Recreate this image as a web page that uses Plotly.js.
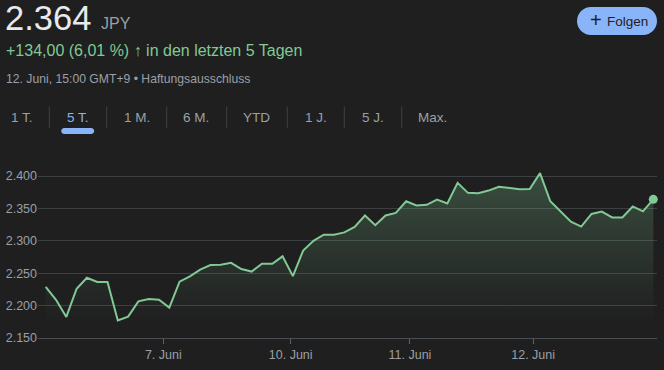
<!DOCTYPE html>
<html>
<head>
<meta charset="utf-8">
<script src="https://cdn.plot.ly/plotly-3.0.1.min.js"></script>
<style>
  html, body { margin: 0; padding: 0; background: #1f1f1f; }
  #chart { width: 664px; height: 370px; }
</style>
</head>
<body>
<div id="chart"></div>
<script>
// ---- data ----
const prices = [2229,2209,2182.5,2226,2243,2236.5,2236.5,2177,2183,2206.5,
  2210,2209,2197,2237,2245,2255.5,2262.5,2263,2266,2256.5,
  2252.5,2264.5,2264.5,2276,2245.5,2285,2300,2309.5,2309.5,2313,
  2321.5,2339,2324,2339,2343,2361,2354.5,2355.5,2363.5,2357.5,
  2389.5,2374,2373.5,2377.5,2383.5,2381.5,2379.5,2380,2404.5,2361,
  2344.5,2329.5,2322,2341.5,2345,2336,2336,2353,2345.5,2364];
const steps = prices.map((_, i) => i);
const dayTickPos = [11.42, 23.79, 35.37, 47.33];
const dayTickLabels = ['7. Juni', '10. Juni', '11. Juni', '12. Juni'];
const yTicks = [2150, 2200, 2250, 2300, 2350, 2400];
const tabLabels = ['1 T.', '5 T.', '1 M.', '6 M.', 'YTD', '1 J.', '5 J.', 'Max.'];
const activeTab = '5 T.';

// ---- header texts ----
const priceText = '2.364';
const currencyText = 'JPY';
const changeText = '+134,00 (6,01 %) <b>\u2191</b> in den letzten 5 Tagen';
const dateText = '12. Juni, 15:00 GMT+9 \u2022 Haftungsausschluss';

// ---- layout helpers (pixel -> paper) ----
const L = 38, R = 657, T = 160, B = 338;
const W = 664, H = 370;
const ax = px => (px - L) / (R - L);
const ay = py => (B - py) / (B - T);

function roundRectPath(x0, y0, x1, y1, r) {
  const k = 0.5523 * r;
  const P = (x, y) => ax(x) + ',' + ay(y);
  return 'M' + P(x0 + r, y0) +
    ' L' + P(x1 - r, y0) +
    ' C' + P(x1 - r + k, y0) + ' ' + P(x1, y0 + r - k) + ' ' + P(x1, y0 + r) +
    ' L' + P(x1, y1 - r) +
    ' C' + P(x1, y1 - r + k) + ' ' + P(x1 - r + k, y1) + ' ' + P(x1 - r, y1) +
    ' L' + P(x0 + r, y1) +
    ' C' + P(x0 + r - k, y1) + ' ' + P(x0, y1 - r + k) + ' ' + P(x0, y1 - r) +
    ' L' + P(x0, y0 + r) +
    ' C' + P(x0, y0 + r - k) + ' ' + P(x0 + r - k, y0) + ' ' + P(x0 + r, y0) + ' Z';
}

const FONT = 'Arial, "Liberation Sans", sans-serif';
const GREEN = '#81c995';
const GRAY = '#9aa0a6';
const BLUE = '#8ab4f8';

const tabCenters = [21.7, 77.7, 136.7, 196, 256.7, 316, 372.7, 432.7];
const tabSeps = [49.3, 106.7, 166.7, 226.7, 287.3, 344.3, 401.7];

const annotations = [
  {text: priceText, x: ax(3), y: ay(17.5), font: {size: 34.5, color: '#e8eaed'}},
  {text: currencyText, x: ax(99), y: ay(23), font: {size: 16, color: GRAY}},
  {text: changeText, x: ax(4), y: ay(51), font: {size: 16, color: GREEN}},
  {text: dateText, x: ax(4), y: ay(78.5), font: {size: 12.2, color: GRAY}},
  {text: '+', x: ax(587.5), y: ay(20.5), font: {size: 20, color: '#202124'}},
  {text: 'Folgen', x: ax(605), y: ay(21), font: {size: 13.5, color: '#202124'}}
].map(a => Object.assign({xref: 'paper', yref: 'paper', xanchor: 'left', yanchor: 'middle', showarrow: false}, a));

tabLabels.forEach((t, i) => {
  annotations.push({
    text: t, xref: 'paper', yref: 'paper', x: ax(tabCenters[i]), y: ay(117),
    xanchor: 'center', yanchor: 'middle', showarrow: false,
    font: {size: 13.5, color: t === activeTab ? BLUE : GRAY}
  });
});

const shapes = [];
tabSeps.forEach(sx => {
  shapes.push({type: 'line', xref: 'paper', yref: 'paper', x0: ax(sx), x1: ax(sx),
    y0: ay(106.5), y1: ay(128), line: {color: '#3c4043', width: 1}});
});
// active tab underline
const ai = tabLabels.indexOf(activeTab);
shapes.push({type: 'path', xref: 'paper', yref: 'paper',
  path: roundRectPath(tabCenters[ai] - 16.5, 128, tabCenters[ai] + 16.5, 134, 3),
  fillcolor: BLUE, line: {width: 0}});
// follow button
shapes.push({type: 'path', xref: 'paper', yref: 'paper',
  path: roundRectPath(577, 7, 657, 35, 14), fillcolor: BLUE, line: {width: 0}});

const traces = [
  {
    x: steps, y: prices, type: 'scatter', mode: 'lines',
    line: {color: GREEN, width: 2},
    fill: 'tozeroy',
    fillgradient: {
      type: 'vertical', start: 2175, stop: 2405,
      colorscale: [[0, 'rgba(129,201,149,0)'], [1, 'rgba(129,201,149,0.27)']]
    },
    hoverinfo: 'skip'
  },
  {
    x: [steps[steps.length - 1]], y: [prices[prices.length - 1]],
    type: 'scatter', mode: 'markers',
    marker: {color: GREEN, size: 9}, hoverinfo: 'skip', cliponaxis: false
  }
];

const layout = {
  width: W, height: H,
  margin: {l: L, r: W - R, t: T, b: H - B, pad: 0},
  paper_bgcolor: '#1f1f1f', plot_bgcolor: '#1f1f1f',
  font: {family: FONT, color: GRAY, size: 12.5},
  separators: ',.',
  showlegend: false,
  xaxis: {
    range: [-0.75, 59.36], showgrid: false, zeroline: false,
    tickvals: dayTickPos, ticktext: dayTickLabels,
    ticks: 'outside', ticklen: 5, tickcolor: '#5f6368', tickwidth: 1,
    showline: true, linecolor: '#4a4d51', linewidth: 1,
    tickfont: {size: 12.5, color: GRAY}, fixedrange: true
  },
  yaxis: {
    range: [2150, 2424.7], tickvals: yTicks, tickformat: ',.0f',
    showgrid: true, gridcolor: '#3c4043', gridwidth: 1, zeroline: false,
    ticks: '', tickfont: {size: 12.5, color: GRAY}, fixedrange: true
  },
  annotations: annotations,
  shapes: shapes
};

Plotly.newPlot('chart', traces, layout, {displayModeBar: false, staticPlot: true});
</script>
</body>
</html>
